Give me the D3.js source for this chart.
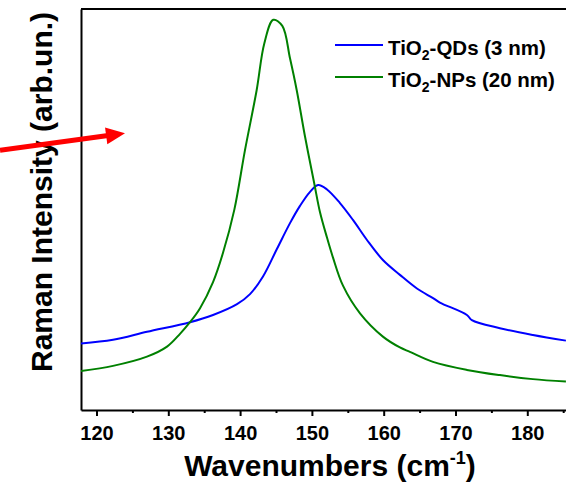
<!DOCTYPE html>
<html>
<head>
<meta charset="utf-8">
<script src="https://cdn.jsdelivr.net/npm/d3@7"></script>
<style>
  body { margin: 0; background: #fff; }
  text { font-family: "Liberation Sans", Arial, sans-serif; font-weight: bold; }
</style>
</head>
<body>
<div id="chart"></div>
<script>
// wavenumbers (cm-1) and intensity (arb. units, 0-100)
const qdWave = [117.84, 122.3, 127.03, 133.02, 136.23, 139.57, 141.38, 143.19, 145.14, 146.95,
  148.34, 149.74, 150.85, 152.1, 153.91, 155.72, 157.67, 159.89, 162.26, 164.63,
  166.87, 167.83, 171.59, 172.28, 176.18, 180.78, 185.38];
const qdInt = [16.6, 17.5, 19.5, 21.9, 23.7, 26.4, 28.9, 33.3, 40.2, 46.6,
  50.9, 54.4, 56.1, 55.0, 51.6, 47.4, 42.4, 37.4, 33.7, 30.3,
  27.9, 26.8, 23.7, 22.4, 20.4, 18.7, 17.3];

const npWave = [117.84, 122.3, 127.03, 129.82, 131.63, 133.02, 134.42, 136.23, 137.62, 139.19,
  140.68, 142.31, 143.37, 144.62, 145.88, 146.95, 147.88, 149.04, 150.33, 151.13,
  152.1, 152.94, 154.33, 156.7, 159.89, 162.26, 163.65, 166.87, 171.59, 176.18,
  180.78, 185.38];
const npInt = [9.7, 11.0, 13.3, 15.8, 19.0, 21.9, 25.4, 31.9, 39.2, 49.9,
  64.8, 79.8, 91.4, 97.3, 95.8, 87.7, 79.8, 68.2, 56.5, 49.3,
  43.0, 38.0, 31.0, 24.1, 18.3, 15.6, 14.5, 12.0, 10.0, 8.7,
  7.7, 7.1];

const seriesNames = ["QDs (3 nm)", "NPs (20 nm)"];
const seriesColors = ["#0000ff", "#008000"];
const majorTicks = [120, 130, 140, 150, 160, 170, 180];
const minorTicks = [125, 135, 145, 155, 165, 175, 185];

// red annotation arrow, in data units (tail, tip)
const arrowWave = [106.56, 123.97];
const arrowInt = [64.8, 69.0];

const W = 566, H = 483;
const margin = {top: 9, right: -2, bottom: 73, left: 81};
const width = W - margin.left - margin.right,
      height = H - margin.top - margin.bottom;

const svg = d3.select("#chart").append("svg")
    .attr("width", W)
    .attr("height", H);

const g = svg.append("g")
    .attr("transform", `translate(${margin.left},${margin.top})`);

const x = d3.scaleLinear().domain([117.84, 185.67]).range([0, width]);
const y = d3.scaleLinear().domain([0, 100]).range([height, 0]);

svg.append("defs").append("clipPath").attr("id", "clip")
  .append("rect").attr("width", width).attr("height", height);

// frame (top border)
g.append("line")
    .attr("x1", 0).attr("x2", width)
    .attr("y1", y(100)).attr("y2", y(100))
    .attr("stroke", "#000").attr("stroke-width", 2);

// minor ticks
g.append("g")
    .attr("transform", `translate(0,${height})`)
    .call(d3.axisBottom(x).tickValues(minorTicks).tickSize(3).tickSizeOuter(0).tickFormat(""))
    .call(a => a.select(".domain").remove())
    .call(a => a.selectAll("line").attr("stroke-width", 2));

// major ticks + labels
g.append("g")
    .attr("transform", `translate(0,${height})`)
    .call(d3.axisBottom(x).tickValues(majorTicks).tickSize(6).tickSizeOuter(0).tickPadding(10))
    .call(a => a.select(".domain").attr("stroke-width", 2))
    .call(a => a.selectAll("line").attr("stroke-width", 2))
    .call(a => a.selectAll("text")
        .style("font-size", "20px")
        .style("font-family", "'Liberation Sans', Arial, sans-serif")
        .style("font-weight", "bold")
        .attr("fill", "#000"));

// left axis line, no ticks
g.append("g")
    .call(d3.axisLeft(y).tickValues([]).tickSizeOuter(0))
    .call(a => a.select(".domain").attr("stroke-width", 2));

const line = d3.line()
    .curve(d3.curveCatmullRom.alpha(0.5))
    .x(d => x(d[0]))
    .y(d => y(d[1]));

const series = [
  d3.zip(qdWave, qdInt),
  d3.zip(npWave, npInt)
];

g.append("g").attr("clip-path", "url(#clip)")
  .selectAll("path")
  .data(series)
  .join("path")
    .attr("d", line)
    .attr("fill", "none")
    .attr("stroke", (d, i) => seriesColors[i])
    .attr("stroke-width", 2)
    .attr("stroke-linejoin", "round");

// legend
const legend = g.append("g").attr("transform", `translate(${335 - margin.left},${45 - margin.top})`);
const items = legend.selectAll("g")
  .data(seriesNames)
  .join("g")
    .attr("transform", (d, i) => `translate(0,${i * 32})`);
items.append("line")
    .attr("x1", 0).attr("x2", 48)
    .attr("stroke", (d, i) => seriesColors[i])
    .attr("stroke-width", 2);
const lt = items.append("text")
    .attr("x", 53)
    .attr("y", 10)
    .style("font-size", "20.5px");
lt.append("tspan").text("TiO");
lt.append("tspan").attr("dy", 5).style("font-size", "14px").text("2");
lt.append("tspan").attr("dy", -5).text(d => "-" + d);

// axis titles
const xt = svg.append("text")
    .attr("x", 330)
    .attr("y", 476)
    .attr("text-anchor", "middle")
    .style("font-size", "30px");
xt.append("tspan").text("Wavenumbers (cm");
xt.append("tspan").attr("dy", -12).style("font-size", "18px").text("-1");
xt.append("tspan").attr("dy", 12).text(")");

svg.append("text")
    .attr("transform", `translate(52,${192}) rotate(-90)`)
    .attr("text-anchor", "middle")
    .style("font-size", "30px")
    .text("Raman Intensity (arb.un.)");

// red arrow
const ax0 = margin.left + x(arrowWave[0]), ay0 = margin.top + y(arrowInt[0]);
const ax1 = margin.left + x(arrowWave[1]), ay1 = margin.top + y(arrowInt[1]);
const ang = Math.atan2(ay1 - ay0, ax1 - ax0);
const headLen = 19, headW = 8.5;
const bx = ax1 - headLen * Math.cos(ang), by = ay1 - headLen * Math.sin(ang);
svg.append("line")
    .attr("x1", ax0).attr("y1", ay0)
    .attr("x2", bx + 2 * Math.cos(ang)).attr("y2", by + 2 * Math.sin(ang))
    .attr("stroke", "#ff0000").attr("stroke-width", 5);
svg.append("path")
    .attr("d", `M${ax1},${ay1}L${bx - headW * Math.sin(ang)},${by + headW * Math.cos(ang)}L${bx + headW * Math.sin(ang)},${by - headW * Math.cos(ang)}Z`)
    .attr("fill", "#ff0000");
</script>
</body>
</html>
